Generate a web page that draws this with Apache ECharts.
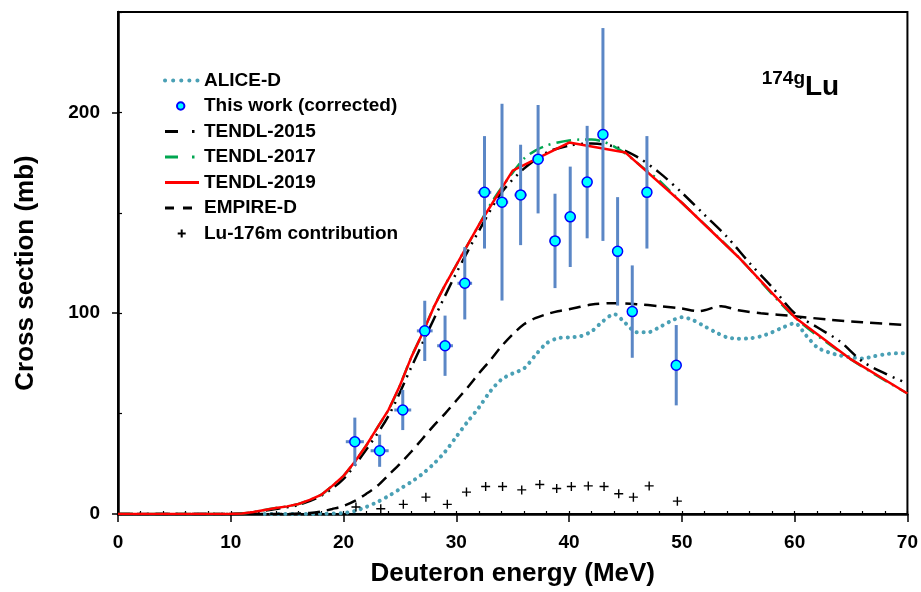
<!DOCTYPE html>
<html>
<head>
<meta charset="utf-8">
<script src="https://cdn.jsdelivr.net/npm/echarts@6/dist/echarts.min.js"></script>
<style>html,body{margin:0;padding:0;background:#fff;}#c{width:921px;height:592px;}</style>
</head>
<body>
<div id="c"></div>
<script>
// ---- data ----
var xTicks = [0, 10, 20, 30, 40, 50, 60, 70];
var yTicks = [0, 100, 200];

var expE    = [21.0, 23.2, 25.25, 27.2, 29.0, 30.75, 32.5, 34.05, 35.7, 37.25, 38.75, 40.1, 41.6, 43.0, 44.3, 45.6, 46.9, 49.5];
var expY    = [36.0, 31.5, 51.8, 91.2, 83.8, 114.9, 160.2, 155.3, 158.9, 176.7, 136.0, 148.0, 165.3, 189.0, 130.8, 100.8, 160.2, 74.1];
var expErrY = [12, 8, 10, 15, 15, 18, 28, 49, 25, 27, 23.5, 25, 28, 53, 27, 23, 28, 20];
var expErrX = [0.8, 0.8, 0.75, 0.7, 0.7, 0.65, 0.6, 0.55, 0.55, 0.5, 0.5, 0.5, 0.45, 0.45, 0.45, 0.4, 0.4, 0.4];

var luE = [21.1, 23.3, 25.3, 27.3, 29.2, 30.9, 32.6, 34.1, 35.8, 37.4, 38.9, 40.2, 41.7, 43.1, 44.4, 45.7, 47.1, 49.6];
var luY = [3.5, 2.6, 4.8, 8.4, 4.8, 10.9, 13.7, 13.7, 12.0, 14.7, 12.7, 13.7, 14.0, 13.7, 10.1, 8.4, 14.0, 6.4];

var t19E = [0,10,11,12,13,14,15,16,17,18,19,20,21,22,23,24,25,26,27,28,29,30,31,32,33,34,35,40,45,50,55,60,65,70];
var t19Y = [0,0,0.2,1,2,3,3.8,5,7,9.5,14,19,26,34,43,52,64,78,90,103,114,124,134,144,153,162,171,185,180,155,128,98,77,60];

var t17E = [0,10,11,12,13,14,15,16,17,18,19,20,21,22,23,24,25,26,27,28,29,30,31,32,33,34,35,36,37,38,39,40,41,42,43,44,45,46,47,48,49,50,55,60,65,70];
var t17Y = [0,0,0.2,1,2,3,3.8,5,7,9.5,14,19,26,34,43,52,64,78,90,103,114,124,134,144,154,162.5,170,177,181,183.5,185,186,186.5,186.5,185.5,183,179.5,175,170.5,166,160.5,155,128,98,77,60];

var t15E = [0,10,12,14,16,18,20,22,24,26,28,30,32,34,36,38,40,42,44,46,48,50,52,54,56,58,60,62,64,66,68,70];
var t15Y = [0,0,0.8,2.5,4.5,9,17.5,32,49,73,97,120,141,160,172,180,183.5,184.5,183,178,170,160,149,138,125,113,100,93,86,76,70,65];

var empE = [0,15,17,18,19,20,21,22,23,24,25,26,27,28,29,30,31,32,33,34,35,36,37,38,39,40,42,44,46,48,50,51.5,53.5,55,57,60,63,66,70];
var empY = [0,0,0.5,1.2,2.5,4,6.5,10,14,19.5,25,31,37.5,44,50,56.5,63,70,76.5,83.5,89.5,94.5,97.5,99.5,101,102,104.3,105,104.5,103.5,102.3,101,103.5,101.5,100,98.5,96.8,95.5,94];

var aliE = [13,16,18,20,21,22,23,24,25,26,27,28,29,30,31,32,33,34,35,36,37,38,39,40,41,42,43,44,45,46,47,48,49,50,51,52,53,54,55,56,57,58,59,60,61,62,63,64,65,66,67,68,69,70];
var aliY = [0,0,0.1,0.5,1.5,3.5,6,9,12.5,16,20,25,31,38.5,46,53,61,67,70,72.5,79,85,87.5,88,88.5,91,96,99.5,95,90.5,90.5,93,96,98,96.5,93.5,90.5,88,87.3,87.5,88.5,90.5,93,95,89,83,80.5,79,78,77.5,78.5,79.5,80,80];

function pairs(xs, ys) { return xs.map(function (x, i) { return [x, ys[i]]; }); }

var FONT = '"Liberation Sans", Arial, Helvetica, sans-serif';
var chart = echarts.init(document.getElementById('c'), null, {renderer: 'canvas'});
var noSym = {color: 'rgba(0,0,0,0)', borderWidth: 0, opacity: 0};

var option = {
  animation: false,
  backgroundColor: '#fff',
  grid: {left: 118, right: 13, top: 12, bottom: 75, show: true, borderColor: '#000', borderWidth: 2, containLabel: false},
  legend: {
    orient: 'vertical', left: 158, top: 66,
    itemWidth: 34, itemHeight: 14, itemGap: 6.5,
    selectedMode: false,
    textStyle: {fontFamily: FONT, fontSize: 19, fontWeight: 'bold', color: '#000'},
    data: [
      {name: 'ALICE-D', itemStyle: noSym, lineStyle: {type: [0.1, 8], cap: 'round', width: 4}},
      {name: 'This work (corrected)', icon: 'path://M0,0M34,14M12,7a3.7,3.7 0 1,0 7.4,0a3.7,3.7 0 1,0 -7.4,0z'},
      {name: 'TENDL-2015', itemStyle: noSym, lineStyle: {type: [13, 14, 2.5, 20], width: 3}},
      {name: 'TENDL-2017', itemStyle: noSym, lineStyle: {type: [13, 14, 2.5, 20], width: 3}},
      {name: 'TENDL-2019', itemStyle: noSym, lineStyle: {width: 3}},
      {name: 'EMPIRE-D', itemStyle: noSym, lineStyle: {type: [9, 9], width: 3}},
      {name: 'Lu-176m contribution', icon: 'path://M0,0M34,14M12.7,7L20.7,7M16.7,3L16.7,11'}
    ]
  },
  xAxis: [{
    type: 'value', min: 0, max: 70, interval: 10,
    name: 'Deuteron energy (MeV)', nameLocation: 'middle', nameGap: 47,
    nameTextStyle: {fontFamily: FONT, fontSize: 26, fontWeight: 'bold', color: '#000'},
    axisLine: {show: true, onZero: false, lineStyle: {color: '#000', width: 2.5}},
    axisTick: {show: true, inside: false, length: 8, lineStyle: {color: '#000', width: 1.5}},
    axisLabel: {margin: 19, fontFamily: FONT, fontSize: 19, fontWeight: 'bold', color: '#000',
      customValues: xTicks},
    splitLine: {show: false}
  }, {
    type: 'value', min: 0, max: 70, interval: 2, position: 'bottom', offset: 0,
    axisLine: {show: false},
    axisTick: {show: true, inside: true, length: 3, lineStyle: {color: '#000', width: 1.2}},
    axisLabel: {show: false},
    splitLine: {show: false}
  }],
  yAxis: [{
    type: 'value', min: 0, max: 250, interval: 100,
    name: 'Cross section (mb)', nameLocation: 'middle', nameGap: 79,
    nameTextStyle: {fontFamily: FONT, fontSize: 26, fontWeight: 'bold', color: '#000', padding: [0, 20, 0, 0]},
    axisLine: {show: true, onZero: false, lineStyle: {color: '#000', width: 2.5}},
    axisTick: {show: true, inside: false, length: 6, lineStyle: {color: '#000', width: 1.5},
      customValues: yTicks},
    axisLabel: {margin: 18, fontFamily: FONT, fontSize: 19, fontWeight: 'bold', color: '#000',
      customValues: yTicks},
    splitLine: {show: false}
  }, {
    type: 'value', min: 0, max: 250, interval: 50, position: 'left', offset: 0,
    axisLine: {show: false},
    axisTick: {show: true, inside: true, length: 4, lineStyle: {color: '#000', width: 1.2}},
    axisLabel: {show: false},
    splitLine: {show: false}
  }],
  series: [
    {name: 'ALICE-D', type: 'line', data: pairs(aliE, aliY), symbol: 'none', smooth: 0.3, z: 2,
      color: '#4AA0B5',
      lineStyle: {color: '#4AA0B5', width: 4, type: [0.1, 6.8], cap: 'round'}},
    {name: 'EMPIRE-D', type: 'line', data: pairs(empE, empY), symbol: 'none', smooth: 0.3, z: 2,
      color: '#000', lineStyle: {color: '#000', width: 2.5, type: [12, 7]}},
    {name: 'TENDL-2015', type: 'line', data: pairs(t15E, t15Y), symbol: 'none', smooth: 0.3, z: 3,
      color: '#000', lineStyle: {color: '#000', width: 2.5, type: [15, 6, 2, 6, 2, 6]}},
    {name: 'TENDL-2017', type: 'line', data: pairs(t17E, t17Y), symbol: 'none', smooth: 0.3, z: 3,
      color: '#00A650', lineStyle: {color: '#00A650', width: 2.5, type: [15, 6, 2, 6]}},
    {name: 'TENDL-2019', type: 'line', data: pairs(t19E, t19Y), symbol: 'none', z: 4,
      color: '#FF0000', lineStyle: {color: '#FF0000', width: 2.5}},
    {name: 'errors', type: 'custom', z: 5, silent: true,
      data: expE.map(function (e, i) { return [e, expY[i], expErrY[i], expErrX[i]]; }),
      renderItem: function (params, api) {
        var x = api.value(0), y = api.value(1), ey = api.value(2), ex = api.value(3);
        var t = api.coord([x, y + ey]), b = api.coord([x, y - ey]);
        var l = api.coord([x - ex, y]), r = api.coord([x + ex, y]);
        var st = {stroke: '#5B87C6', lineWidth: 3};
        return {type: 'group', children: [
          {type: 'line', shape: {x1: t[0], y1: t[1], x2: b[0], y2: b[1]}, style: st},
          {type: 'line', shape: {x1: l[0], y1: l[1], x2: r[0], y2: r[1]}, style: st}
        ]};
      }},
    {name: 'This work (corrected)', type: 'scatter', data: pairs(expE, expY), z: 6,
      symbol: 'circle', symbolSize: 10,
      itemStyle: {color: '#00FFFF', borderColor: '#0000FF', borderWidth: 1.5, opacity: 1}},
    {name: 'Lu-176m contribution', type: 'scatter', data: pairs(luE, luY), z: 6,
      symbol: 'path://M0,5L10,5M5,0L5,10', symbolSize: 9,
      itemStyle: {color: 'rgba(0,0,0,0)', borderColor: '#000', borderWidth: 1.4, opacity: 1}}
  ],
  graphic: [
    {type: 'text', x: 805, y: 79, style: {text: '174g', font: 'bold 19px ' + FONT, fill: '#000', textAlign: 'right', textVerticalAlign: 'middle'}},
    {type: 'text', x: 805, y: 87, style: {text: 'Lu', font: 'bold 28px ' + FONT, fill: '#000', textAlign: 'left', textVerticalAlign: 'middle'}}
  ]
};
chart.setOption(option);
</script>
</body>
</html>
